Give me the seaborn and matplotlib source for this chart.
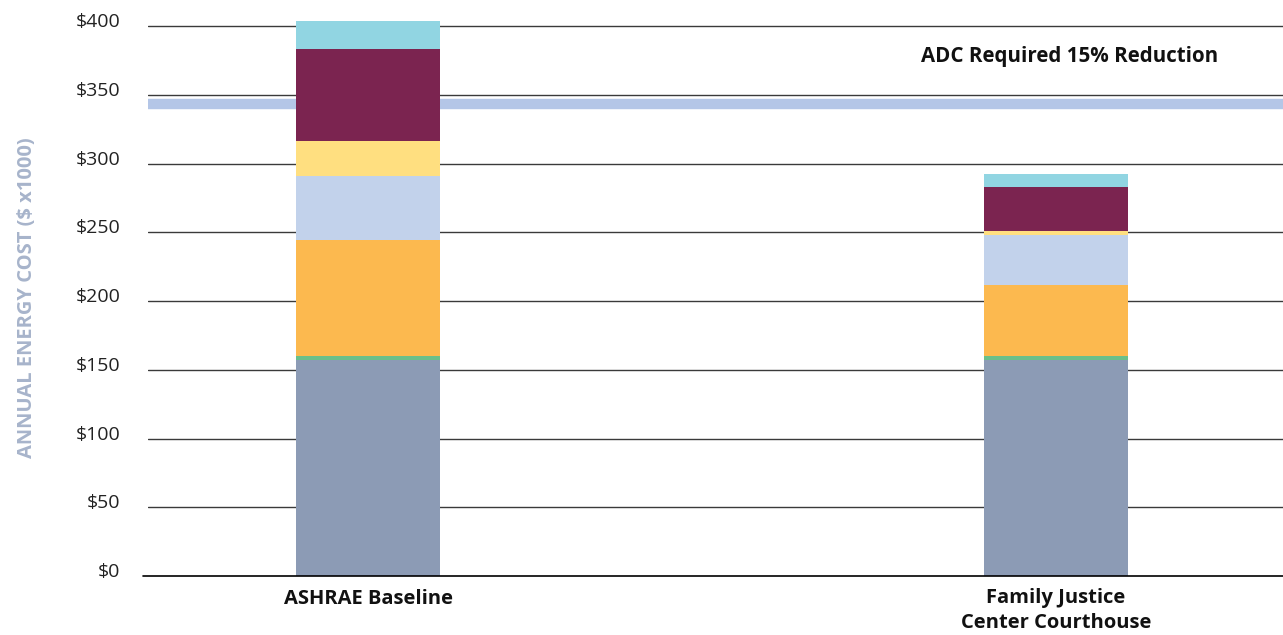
import matplotlib
matplotlib.use("Agg")
import matplotlib.pyplot as plt
import matplotlib.transforms as mtransforms
import seaborn as sns
import numpy as np
import pandas as pd

categories = ["ASHRAE Baseline", "Family Justice\nCenter Courthouse"]
# segments from bottom to top ($ x1000)
seg_gray = [157.0, 157.0]
seg_green = [3.0, 3.0]
seg_orange = [84.4, 51.6]
seg_lightblue = [46.5, 36.2]
seg_yellow = [25.5, 3.1]
seg_maroon = [67.0, 32.0]
seg_cyan = [20.3, 9.5]
reduction_label = "ADC Required 15% Reduction"
reduction_pct = 0.15
yticks = [0, 50, 100, 150, 200, 250, 300, 350, 400]

segments = [seg_gray, seg_green, seg_orange, seg_lightblue, seg_yellow, seg_maroon, seg_cyan]
colors = ["#8c9bb5", "#6abf8a", "#fcb94f", "#c2d2eb", "#ffdf80", "#7b2450", "#91d5e2"]

sns.set_theme(style="white")
plt.rcParams["font.family"] = ["Open Sans", "DejaVu Sans"]

fig = plt.figure(figsize=(12.83, 6.35), dpi=100)
ax = fig.add_axes([148 / 1283, 59 / 635, 1135 / 1283, 576 / 635])

cum = np.cumsum(np.array(segments), axis=0)
# draw from the total down so lower layers overdraw
for i in range(len(segments) - 1, -1, -1):
    df = pd.DataFrame({"cat": categories, "val": cum[i]})
    sns.barplot(data=df, x="cat", y="val", color=colors[i], saturation=1,
                width=0.209, ax=ax, zorder=3, linewidth=0)

total_base = cum[-1][0]
target = total_base * (1 - reduction_pct)
ax.axhline(target, color="#b4c6e7", linewidth=7.5, zorder=2)
for t in yticks[1:]:
    ax.axhline(t, color="#3a3a3a", linewidth=1.0, zorder=1)
ax.plot([-0.327, 1.33], [0, 0], color="black", linewidth=1.2, clip_on=False, zorder=4)

ax.set_xlim(-0.32, 1.33)
ax.set_ylim(0, 419)
ax.set_yticks(yticks)
ax.set_yticklabels([f"${t}" for t in yticks], fontsize=14, color="#222222")
ax.tick_params(axis="y", length=0, pad=20)
ax.tick_params(axis="x", length=0, pad=9)
shift = mtransforms.ScaledTranslation(0, 0.06, fig.dpi_scale_trans)
for lab in ax.get_yticklabels():
    lab.set_transform(lab.get_transform() + shift)
ax.set_xticks([0, 1])
ax.set_xticklabels(categories, fontsize=14.5, fontweight="bold", color="#111111",
                   linespacing=1.3)
ax.set_xlabel("")
ax.set_ylabel("ANNUAL ENERGY COST ($ x1000)", fontsize=14.5, fontweight="bold",
              color="#a7b4cb", va="center")
ax.yaxis.set_label_coords(-0.107, 0.483)
for s in ax.spines.values():
    s.set_visible(False)

ax.text(1.02, 378, reduction_label, fontsize=14.8, fontweight="bold",
        color="#111111", ha="center", va="center")

fig.savefig("out.png", dpi=100)
